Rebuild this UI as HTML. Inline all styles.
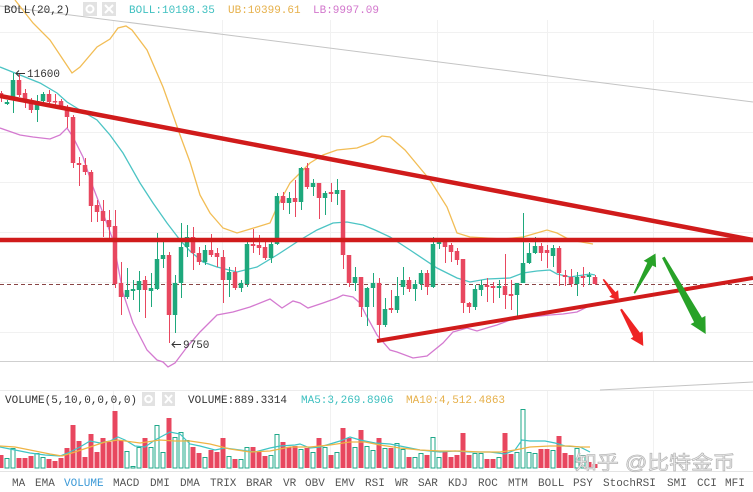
<!DOCTYPE html>
<html><head><meta charset="utf-8"><style>
html,body{margin:0;padding:0;background:#fff;}
svg{display:block;}
text{font-family:"Liberation Mono",monospace;font-size:11px;}
.r{fill:#e8475f}.g{fill:#1ea87c}
.r rect,.g rect{transform:translateX(-0.25px)}
</style></head><body>
<svg width="753" height="492" viewBox="0 0 753 492" xmlns="http://www.w3.org/2000/svg">
<rect width="753" height="492" fill="#fff"/>
<!-- grid -->
<g stroke="#f1f1f1" stroke-width="1">
<path d="M0 32.5H753M0 82.5H753M0 132.5H753M0 182.5H753M0 232.5H753M0 282.5H753M0 332.5H753"/>
<path d="M113.5 20V361M222.5 20V361M330.5 20V361M437.5 20V361M547.5 20V361M653.5 20V361"/>
<path d="M113.5 390V470M222.5 390V470M330.5 390V470M437.5 390V470M547.5 390V470M653.5 390V470"/>
</g>
<path d="M0 361.5H753" stroke="#cfcfcf" stroke-width="1"/>
<path d="M0 390.5H753" stroke="#ececec" stroke-width="1"/>
<path d="M0 471.5H753" stroke="#e4e4e4" stroke-width="1"/>
<path d="M0 6L753 102" stroke="#c4c4c4" stroke-width="1" fill="none"/>
<path d="M600 390L753 382" stroke="#c4c4c4" stroke-width="1" fill="none"/>
<path d="M0 284.5H753" stroke="#8a4646" stroke-width="1" stroke-dasharray="4,3"/>

<!-- BOLL bands -->
<polyline fill="none" stroke="#f2bd55" stroke-width="1.3" points="15,0 33,23 50,40 62,58 72,73 80,67 97,47 110,39 118,28 126,26 132,30 147,50 163,87 173,115 180,135 190,162 200,195 210,213 223,228 237,233 247,230 257,227 270,223 277,207 290,183 300,173 310,163 323,155 337,150 357,148 373,142 382,136 390,137 405,150 420,168 430,180 447,207 457,233 470,237 503,239 523,237 547,230 557,233 570,240 593,244"/>
<polyline fill="none" stroke="#4cc4c4" stroke-width="1.3" points="0,67 20,75 40,83 57,93 67,102 80,110 97,120 110,135 123,153 140,183 153,203 167,223 180,240 190,251 203,262 217,267 237,272 257,267 277,255 300,240 317,230 333,223 347,222 363,225 375,230 390,237 410,250 437,268 457,278 470,282 487,279 510,278 523,273 537,271 550,270 557,274 570,277 590,274 595,275"/>
<polyline fill="none" stroke="#d47ad0" stroke-width="1.3" points="0,128 20,135 33,137 50,139 60,135 67,128 73,137 83,157 93,187 103,213 113,240 123,293 133,323 147,350 157,360 163,362 168,367 175,363 187,347 200,332 217,315 233,312 250,307 270,299 282,308 293,301 300,303 308,308 323,303 337,298 343,295 353,297 360,303 366,315 377,335 390,350 397,352 413,358 427,356 443,343 453,332 467,328 477,331 490,327 497,325 510,320 530,317 550,315 563,314 577,312 587,307"/>

<!-- red candle wicks -->
<path stroke="#e8475f" stroke-width="1" fill="none" d="M1.5 91V102M19.5 73V97M25.5 89V108M31.5 98V113M49.5 90V107M55.5 94V107M61.5 99V110M67.5 105V128M73.5 115V168M79.5 157V186M85.5 158V175M91.5 170V222M97.5 200V222M103.5 200V237M109.5 210V240M115.5 210V288M121.5 262V315M145.5 276V318M169.5 252V343M193.5 227V270M199.5 247V265M211.5 234V257M217.5 248V267M223.5 250V303M235.5 267V290M253.5 229V253M259.5 235V255M265.5 240V260M283.5 192V210M295.5 180V217M307.5 163V189M319.5 183V219M331.5 183V202M343.5 190V269M349.5 255V287M361.5 277V317M379.5 278V342M391.5 290V313M409.5 277V292M427.5 270V295M445.5 241V263M451.5 243V262M457.5 248V265M463.5 259V313M469.5 302V313M487.5 278V302M493.5 282V303M505.5 254V309M511.5 280V310M541.5 243V261M547.5 245V268M559.5 246V286M565.5 270V286M571.5 269V287M583.5 267V287M595.5 275V285"/>
<!-- red bodies -->
<g class="r">
<rect x="-1" y="93" width="4.5" height="5"/><rect x="17" y="80" width="4.5" height="15"/><rect x="23" y="93" width="4.5" height="9"/><rect x="29" y="100" width="4.5" height="10"/><rect x="47" y="94" width="4.5" height="8"/><rect x="53" y="101" width="4.5" height="1.5"/><rect x="59" y="101" width="4.5" height="6"/><rect x="65" y="108" width="4.5" height="9"/><rect x="71" y="117" width="4.5" height="46"/><rect x="77" y="163" width="4.5" height="2"/><rect x="83" y="165" width="4.5" height="7"/><rect x="89" y="172" width="4.5" height="34"/><rect x="95" y="205" width="4.5" height="7"/><rect x="101" y="211" width="4.5" height="10"/><rect x="107" y="220" width="4.5" height="7"/><rect x="113" y="226" width="4.5" height="58"/><rect x="119" y="283" width="4.5" height="14"/><rect x="143" y="280" width="4.5" height="10"/><rect x="167" y="255" width="4.5" height="60"/><rect x="191" y="237" width="4.5" height="16"/><rect x="197" y="253" width="4.5" height="9"/><rect x="209" y="250" width="4.5" height="5"/><rect x="215" y="253" width="4.5" height="4"/><rect x="221" y="257" width="4.5" height="23"/><rect x="233" y="272" width="4.5" height="16"/><rect x="251" y="244" width="4.5" height="2"/><rect x="257" y="245" width="4.5" height="3"/><rect x="263" y="247" width="4.5" height="11"/><rect x="281" y="196" width="4.5" height="7"/><rect x="293" y="198" width="4.5" height="4"/><rect x="305" y="168" width="4.5" height="19"/><rect x="317" y="183" width="4.5" height="15"/><rect x="329" y="192" width="4.5" height="2"/><rect x="341" y="190" width="4.5" height="65"/><rect x="347" y="255" width="4.5" height="28"/><rect x="359" y="277" width="4.5" height="30"/><rect x="377" y="283" width="4.5" height="42"/><rect x="389" y="308" width="4.5" height="2"/><rect x="407" y="280" width="4.5" height="9"/><rect x="425" y="273" width="4.5" height="14"/><rect x="443" y="242" width="4.5" height="5"/><rect x="449" y="245" width="4.5" height="7"/><rect x="455" y="251" width="4.5" height="9"/><rect x="461" y="259" width="4.5" height="44"/><rect x="467" y="303" width="4.5" height="4"/><rect x="485" y="285" width="4.5" height="2"/><rect x="491" y="286" width="4.5" height="2"/><rect x="503" y="286" width="4.5" height="9"/><rect x="509" y="294" width="4.5" height="2"/><rect x="539" y="246" width="4.5" height="7"/><rect x="545" y="250" width="4.5" height="3"/><rect x="557" y="248" width="4.5" height="25"/><rect x="563" y="275" width="4.5" height="2"/><rect x="569" y="277" width="4.5" height="7"/><rect x="581" y="276" width="4.5" height="2"/><rect x="593" y="277" width="4.5" height="7"/>
</g>
<!-- green wicks -->
<path stroke="#1ea87c" stroke-width="1" fill="none" d="M7.5 100V105M13.5 73V113M37.5 95V122M43.5 92V104M127.5 268V299M133.5 280V300M139.5 271V312M151.5 273V307M157.5 233V290M163.5 240V268M175.5 275V333M181.5 223V298M187.5 225V257M205.5 245V265M229.5 267V297M241.5 280V292M247.5 242V287M271.5 242V263M277.5 193V245M289.5 192V214M301.5 167V210M313.5 179V196M325.5 191V215M337.5 179V205M355.5 267V291M367.5 287V326M373.5 273V307M385.5 298V327M397.5 277V313M403.5 267V295M415.5 280V301M421.5 270V290M433.5 237V288M439.5 238V249M475.5 285V310M481.5 280V296M499.5 280V298M517.5 283V317M523.5 213V283M529.5 243V264M535.5 237V254M553.5 245V267M577.5 272V296M589.5 272V285"/>
<g class="g">
<rect x="5" y="102" width="4.5" height="2"/><rect x="11" y="80" width="4.5" height="18"/><rect x="35" y="101" width="4.5" height="9"/><rect x="41" y="94" width="4.5" height="7"/><rect x="125" y="290" width="4.5" height="7"/><rect x="131" y="289" width="4.5" height="2"/><rect x="137" y="281" width="4.5" height="9"/><rect x="149" y="288" width="4.5" height="3"/><rect x="155" y="259" width="4.5" height="30"/><rect x="161" y="255" width="4.5" height="4"/><rect x="173" y="283" width="4.5" height="32"/><rect x="179" y="247" width="4.5" height="36"/><rect x="185" y="237" width="4.5" height="10"/><rect x="203" y="250" width="4.5" height="12"/><rect x="227" y="272" width="4.5" height="8"/><rect x="239" y="283" width="4.5" height="5"/><rect x="245" y="244" width="4.5" height="40"/><rect x="269" y="244" width="4.5" height="14"/><rect x="275" y="196" width="4.5" height="48"/><rect x="287" y="198" width="4.5" height="5"/><rect x="299" y="168" width="4.5" height="34"/><rect x="311" y="183" width="4.5" height="4"/><rect x="323" y="193" width="4.5" height="5"/><rect x="335" y="190" width="4.5" height="4"/><rect x="353" y="277" width="4.5" height="6"/><rect x="365" y="288" width="4.5" height="19"/><rect x="371" y="283" width="4.5" height="5"/><rect x="383" y="309" width="4.5" height="16"/><rect x="395" y="296" width="4.5" height="14"/><rect x="401" y="280" width="4.5" height="7"/><rect x="413" y="284" width="4.5" height="5"/><rect x="419" y="273" width="4.5" height="11"/><rect x="431" y="244" width="4.5" height="43"/><rect x="437" y="242" width="4.5" height="2"/><rect x="473" y="289" width="4.5" height="18"/><rect x="479" y="285" width="4.5" height="5"/><rect x="497" y="286" width="4.5" height="2"/><rect x="515" y="283" width="4.5" height="12"/><rect x="521" y="263" width="4.5" height="20"/><rect x="527" y="253" width="4.5" height="10"/><rect x="533" y="246" width="4.5" height="7"/><rect x="551" y="248" width="4.5" height="8"/><rect x="575" y="277" width="4.5" height="7"/><rect x="587" y="275" width="4.5" height="2"/>
</g>

<!-- red trend lines -->
<g stroke="#d01b1b" fill="none" stroke-linecap="butt">
<path d="M0 96L753 240" stroke-width="4.5"/>
<path d="M0 240H753" stroke-width="4.5"/>
<path d="M377 341L753 278" stroke-width="4"/>
</g>
<!-- arrows -->
<polygon fill="#ee2424" points="602.7,279.7 611.9,294.7 609.3,296.7 619,300.7 618.1,290.1 615.5,292.1 603.9,278.9"/>
<polygon fill="#ee2424" points="620.1,309.8 633.2,337.0 630.6,338.5 643.3,346 642.6,331.3 640.0,332.8 621.9,308.8"/>
<polygon fill="#28a228" points="635.0,293.7 652.5,265.5 656.1,267.4 655.5,253.5 643.7,260.8 647.3,262.7 633.6,292.9"/>
<polygon fill="#28a228" points="662.0,258.0 694.1,322.2 690.6,324.1 705.7,334 705.4,315.9 701.9,317.8 664.6,256.6"/>

<!-- price labels -->
<path d="M25 73.5H16M19 70.5L16 73.5L19 76.5" stroke="#333" stroke-width="1" fill="none"/>
<text x="27" y="77" fill="#333">11600</text>
<path d="M181 344.5H172M175 341.5L172 344.5L175 347.5" stroke="#333" stroke-width="1" fill="none"/>
<text x="183" y="348" fill="#333">9750</text>

<!-- header -->
<text x="4" y="13" fill="#333">BOLL(20,2)</text>
<rect x="83" y="2" width="14" height="14" fill="#e2e2e2"/>
<circle cx="90" cy="9" r="3.5" fill="none" stroke="#fff" stroke-width="2"/>
<rect x="102" y="2" width="14" height="14" fill="#e2e2e2"/>
<path d="M105 5L113 13M113 5L105 13" stroke="#fff" stroke-width="2"/>
<text x="129" y="13" fill="#3fc0c0">BOLL:10198.35</text>
<text x="228" y="13" fill="#e6b04a">UB:10399.61</text>
<text x="313" y="13" fill="#d276cc">LB:9997.09</text>

<!-- volume header -->
<text x="5" y="403" fill="#333">VOLUME(5,10,0,0,0,0)</text>
<rect x="142" y="392" width="13" height="14" fill="#e2e2e2"/>
<circle cx="148.5" cy="399" r="3.3" fill="none" stroke="#fff" stroke-width="2"/>
<rect x="162" y="392" width="13" height="14" fill="#e2e2e2"/>
<path d="M165 395L172 403M172 395L165 403" stroke="#fff" stroke-width="2"/>
<text x="188" y="403" fill="#333">VOLUME:889.3314</text>
<text x="301" y="403" fill="#3fc0c0">MA5:3,269.8906</text>
<text x="406" y="403" fill="#e6b04a">MA10:4,512.4863</text>

<!-- volume bars red -->
<g fill="#e8475f">
<rect x="-1.5" y="455" width="5" height="13"/><rect x="16.5" y="458" width="5" height="10"/><rect x="22.5" y="458" width="5" height="10"/><rect x="28.5" y="456" width="5" height="12"/><rect x="46.5" y="459" width="5" height="9"/><rect x="52.5" y="461" width="5" height="7"/><rect x="58.5" y="458" width="5" height="10"/><rect x="64.5" y="448" width="5" height="20"/><rect x="70.5" y="425" width="5" height="43"/><rect x="76.5" y="441" width="5" height="27"/><rect x="82.5" y="457" width="5" height="11"/><rect x="88.5" y="434" width="5" height="34"/><rect x="94.5" y="452" width="5" height="16"/><rect x="100.5" y="438" width="5" height="30"/><rect x="106.5" y="442" width="5" height="26"/><rect x="112.5" y="411" width="5" height="57"/><rect x="118.5" y="440" width="5" height="28"/><rect x="142.5" y="438" width="5" height="30"/><rect x="166.5" y="418" width="5" height="50"/><rect x="190.5" y="447" width="5" height="21"/><rect x="196.5" y="453" width="5" height="15"/><rect x="208.5" y="450" width="5" height="18"/><rect x="214.5" y="452" width="5" height="16"/><rect x="220.5" y="438" width="5" height="30"/><rect x="232.5" y="459" width="5" height="9"/><rect x="250.5" y="447" width="5" height="21"/><rect x="256.5" y="452" width="5" height="16"/><rect x="262.5" y="456" width="5" height="12"/><rect x="280.5" y="442" width="5" height="26"/><rect x="286.5" y="447" width="5" height="21"/><rect x="292.5" y="446" width="5" height="22"/><rect x="304.5" y="448" width="5" height="20"/><rect x="316.5" y="438" width="5" height="30"/><rect x="328.5" y="455" width="5" height="13"/><rect x="340.5" y="428" width="5" height="40"/><rect x="346.5" y="438" width="5" height="30"/><rect x="358.5" y="430" width="5" height="38"/><rect x="376.5" y="438" width="5" height="30"/><rect x="388.5" y="448" width="5" height="20"/><rect x="406.5" y="457" width="5" height="11"/><rect x="424.5" y="455" width="5" height="13"/><rect x="442.5" y="452" width="5" height="16"/><rect x="448.5" y="457" width="5" height="11"/><rect x="454.5" y="455" width="5" height="13"/><rect x="460.5" y="433" width="5" height="35"/><rect x="466.5" y="455" width="5" height="13"/><rect x="484.5" y="459" width="5" height="9"/><rect x="490.5" y="459" width="5" height="9"/><rect x="502.5" y="433" width="5" height="35"/><rect x="508.5" y="454" width="5" height="14"/><rect x="538.5" y="449" width="5" height="19"/><rect x="544.5" y="449" width="5" height="19"/><rect x="556.5" y="436" width="5" height="32"/><rect x="562.5" y="453" width="5" height="15"/><rect x="568.5" y="455" width="5" height="13"/><rect x="586.5" y="462" width="5" height="6"/><rect x="592.5" y="464" width="5" height="4"/>
</g>
<!-- volume bars green (outlined) -->
<g fill="#fff" stroke="#1fa88a" stroke-width="1">
<rect x="5" y="458.5" width="4" height="9.5"/><rect x="11" y="448.5" width="4" height="19.5"/><rect x="35" y="453.5" width="4" height="14.5"/><rect x="41" y="457.5" width="4" height="10.5"/><rect x="125" y="451.5" width="4" height="16.5"/><rect x="131" y="466.5" width="4" height="1.5"/><rect x="137" y="447.5" width="4" height="20.5"/><rect x="149" y="447.5" width="4" height="20.5"/><rect x="155" y="425.5" width="4" height="42.5"/><rect x="161" y="452.5" width="4" height="15.5"/><rect x="173" y="437.5" width="4" height="30.5"/><rect x="179" y="432.5" width="4" height="35.5"/><rect x="185" y="440.5" width="4" height="27.5"/><rect x="203" y="457.5" width="4" height="10.5"/><rect x="227" y="456.5" width="4" height="11.5"/><rect x="239" y="459.5" width="4" height="8.5"/><rect x="245" y="447.5" width="4" height="20.5"/><rect x="269" y="455.5" width="4" height="12.5"/><rect x="275" y="434.5" width="4" height="33.5"/><rect x="299" y="449.5" width="4" height="18.5"/><rect x="311" y="452.5" width="4" height="15.5"/><rect x="323" y="447.5" width="4" height="20.5"/><rect x="335" y="452.5" width="4" height="15.5"/><rect x="353" y="447.5" width="4" height="20.5"/><rect x="365" y="446.5" width="4" height="21.5"/><rect x="371" y="450.5" width="4" height="17.5"/><rect x="383" y="448.5" width="4" height="19.5"/><rect x="395" y="443.5" width="4" height="24.5"/><rect x="401" y="449.5" width="4" height="18.5"/><rect x="413" y="457.5" width="4" height="10.5"/><rect x="419" y="453.5" width="4" height="14.5"/><rect x="431" y="437.5" width="4" height="30.5"/><rect x="437" y="457.5" width="4" height="10.5"/><rect x="473" y="453.5" width="4" height="14.5"/><rect x="479" y="453.5" width="4" height="14.5"/><rect x="497" y="457.5" width="4" height="10.5"/><rect x="515" y="452.5" width="4" height="15.5"/><rect x="521" y="409.5" width="4" height="58.5"/><rect x="527" y="452.5" width="4" height="15.5"/><rect x="533" y="453.5" width="4" height="14.5"/><rect x="551" y="450.5" width="4" height="17.5"/><rect x="575" y="448.5" width="4" height="19.5"/><rect x="581" y="455.5" width="4" height="12.5"/>
</g>
<!-- volume MAs -->
<polyline fill="none" stroke="#3ec4c4" stroke-width="1.2" points="0,447 15,450 30,453 45,455 60,456 70,452 80,447 90,441 100,443 110,441 118,437 125,440 135,446 145,447 155,440 170,432 180,434 190,444 200,446 215,450 225,448 240,450 255,452 270,448 280,446 295,445 300,444 310,448 320,447 340,441 350,437 360,440 375,443 390,444 400,446 420,450 440,452 455,451 470,452 490,452 505,454 515,450 522,440 530,441 545,441 555,443 565,446 580,447 590,452"/>
<polyline fill="none" stroke="#efb445" stroke-width="1.2" points="0,446 15,447 30,450 50,454 62,456 75,452 90,447 105,442 118,440 140,443 160,440 175,441 190,441 210,444 230,449 250,452 270,451 290,447 310,447 330,445 350,442 365,442 380,445 400,448 420,450 440,451 460,451 480,452 500,452 515,450 530,447 550,446 570,446 580,447 590,447"/>

<!-- watermark -->
<text x="575" y="469" textLength="160" lengthAdjust="spacingAndGlyphs" style="font-family:'Liberation Sans','Noto Sans CJK SC',sans-serif;font-size:19px" fill="#efefef" stroke="#b6b6b6" stroke-width="0.7">知乎 @比特金币</text>

<!-- tabs -->
<g fill="#555">
<text x="12" y="486">MA</text><text x="35" y="486">EMA</text><text x="64" y="486" fill="#3a98d6">VOLUME</text><text x="113" y="486">MACD</text><text x="150" y="486">DMI</text><text x="180" y="486">DMA</text><text x="210" y="486">TRIX</text><text x="246" y="486">BRAR</text><text x="283" y="486">VR</text><text x="305" y="486">OBV</text><text x="335" y="486">EMV</text><text x="365" y="486">RSI</text><text x="395" y="486">WR</text><text x="418" y="486">SAR</text><text x="448" y="486">KDJ</text><text x="478" y="486">ROC</text><text x="508" y="486">MTM</text><text x="538" y="486">BOLL</text><text x="573" y="486">PSY</text><text x="603" y="486">StochRSI</text><text x="667" y="486">SMI</text><text x="697" y="486">CCI</text><text x="725" y="486">MFI</text>
</g>
</svg>
</body></html>
